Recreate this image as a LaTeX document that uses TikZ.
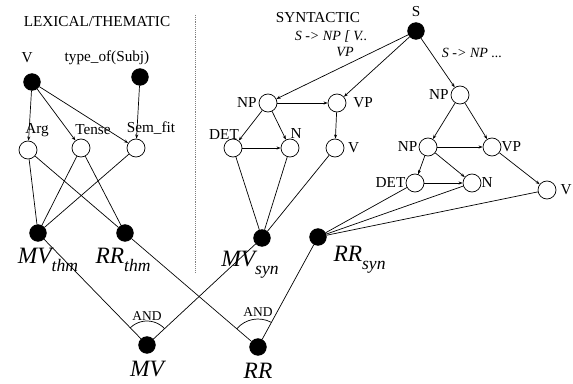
\documentclass[tikz,border=0pt]{standalone}
\usepackage{fontspec}
\setmainfont{Liberation Serif}
\usetikzlibrary{positioning, arrows.meta}
\newcommand{\subtag}[2]{#1\raisebox{-2.4mm}{\fontsize{15}{15}\selectfont #2}}

\begin{document}
\begin{tikzpicture}[>={Stealth[length=3.5pt, width=2.6pt]}, x=0.3mm, y=0.3mm, line width=0.6pt,
    open/.style={circle, draw, fill=white, minimum size=5.4mm, inner sep=0pt},
    full/.style={circle, draw, fill=black, minimum size=5mm, inner sep=0pt},
    lbl/.style={font=\fontsize{13}{15}\selectfont, inner sep=0pt},
    rule/.style={font=\fontsize{12}{14}\selectfont\itshape, inner sep=0pt},
    big/.style={font=\fontsize{20}{22}\selectfont\itshape, inner sep=0pt},
    every label/.style={lbl}]
\useasboundingbox (0,0) rectangle (573,383);
% lexical / thematic side
\node[lbl] (lexTitle) at (97,361) {LEXICAL/THEMATIC};
\node[full, label={[label distance=3mm, xshift=-1.5mm]above:V}] (V) at (32,301) {};
\node[full, label={[label distance=1mm, xshift=-9.9mm]above:type\_of(Subj)}] (Subj) at (140,306) {};
\node[open, label={[label distance=1mm, xshift=2.7mm]above:Arg}] (Arg) at (28,233) {};
\node[open, label={[label distance=1mm, xshift=3.6mm]above:Tense}] (Tense) at (81,235) {};
\node[open, label={[label distance=1mm, xshift=4.5mm]above:Sem\_fit}] (Semfit) at (136,235) {};
\node[full, label={[big, label distance=1.8mm, xshift=3mm]below:\subtag{MV}{thm}}] (MVthm) at (38,150) {};
\node[full, label={[big, label distance=1.8mm, xshift=-0.6mm]below:\subtag{RR}{thm}}] (RRthm) at (125,150) {};
\draw[->] (V) -- (Arg);
\draw[->] (V) -- (Tense);
\draw[->] (V) -- (Semfit);
\draw[->] (Subj) -- (Semfit);
\draw (Arg) -- (MVthm);
\draw (Arg) -- (RRthm);
\draw (Tense) -- (MVthm);
\draw (Tense) -- (RRthm);
\draw (Semfit) -- (MVthm);
\draw[densely dotted, gray] (195,368) -- (195,111);
% syntactic side
\node[lbl] (synTitle) at (318,365) {SYNTACTIC};
\node[rule] (ruleA) at (331,346) {S -> NP [ V..};
\node[rule] (ruleB) at (345,331) {VP};
\node[rule] (ruleC) at (472,330) {S -> NP ...};
\node[full, label={[label distance=1.5mm]above:S}] (S) at (416,352) {};
\node[open, label={[label distance=0.5mm]left:NP}] (NPa) at (268,280) {};
\node[open, label={[label distance=2mm]right:VP}] (VPa) at (337,280) {};
\node[open, label={[label distance=-0.5mm, xshift=-2.7mm]above:DET}] (DETa) at (233,235) {};
\node[open, label={[label distance=0mm, xshift=1.8mm]above:N}] (Na) at (290,235) {};
\node[open, label={[label distance=1mm]right:V}] (Va) at (335,235) {};
\node[full, label={[big, label distance=1.2mm, xshift=-3.6mm]below:\subtag{MV}{syn}}] (MVsyn) at (262,145) {};
\node[open, label={[label distance=0.5mm]left:NP}] (NPb) at (460,288) {};
\node[open, label={[label distance=0.3mm]left:NP}] (NPc) at (428,236) {};
\node[open, label={[label distance=0mm]right:VP}] (VPb) at (492,236) {};
\node[open, label={[label distance=0mm]left:DET}] (DETb) at (415,200) {};
\node[open, label={[label distance=0mm]right:N}] (Nb) at (472,200) {};
\node[open, label={[label distance=1.2mm]right:V}] (Vb) at (547,193) {};
\node[full, label={[big, label distance=1mm, xshift=2mm]below right:\subtag{RR}{syn}}] (RRsyn) at (318,146) {};
\draw[->] (S) -- (NPa);
\draw[->] (S) -- (VPa);
\draw[->] (S) -- (NPb);
\draw[->] (NPa) -- (VPa);
\draw[->] (NPa) -- (DETa);
\draw[->] (NPa) -- (Na);
\draw[->] (DETa) -- (Na);
\draw[->] (VPa) -- (Va);
\draw (DETa) -- (MVsyn);
\draw (Na) -- (MVsyn);
\draw (Va) -- (MVsyn);
\draw[->] (NPb) -- (NPc);
\draw[->] (NPb) -- (VPb);
\draw[->] (NPc) -- (VPb);
\draw[->] (NPc) -- (DETb);
\draw[->] (NPc) -- (Nb);
\draw[->] (DETb) -- (Nb);
\draw[->] (VPb) -- (Vb);
\draw (DETb) -- (RRsyn);
\draw (Nb) -- (RRsyn);
\draw (Vb) -- (RRsyn);
% conjunctions
\node[full, label={[big, label distance=2mm]below:MV}] (MV) at (147,38) {};
\node[full, label={[big, label distance=2mm]below:RR}] (RR) at (258,36) {};
\draw (MVthm) -- (MV);
\draw (MVsyn) -- (MV);
\draw (RRthm) -- (RR);
\draw (RRsyn) -- (RR);
\draw ([shift={(43:7.2mm)}]MV.center) arc[start angle=43, end angle=134, radius=7.2mm];
\draw ([shift={(62:8.4mm)}]RR.center) arc[start angle=62, end angle=139, radius=8.4mm];
\node[lbl, font=\fontsize{11.5}{13}\selectfont] (andMV) at ([yshift=8.7mm]MV.center) {AND};
\node[lbl, font=\fontsize{11.5}{13}\selectfont] (andRR) at ([yshift=10.5mm]RR.center) {AND};
\end{tikzpicture}
\end{document}
